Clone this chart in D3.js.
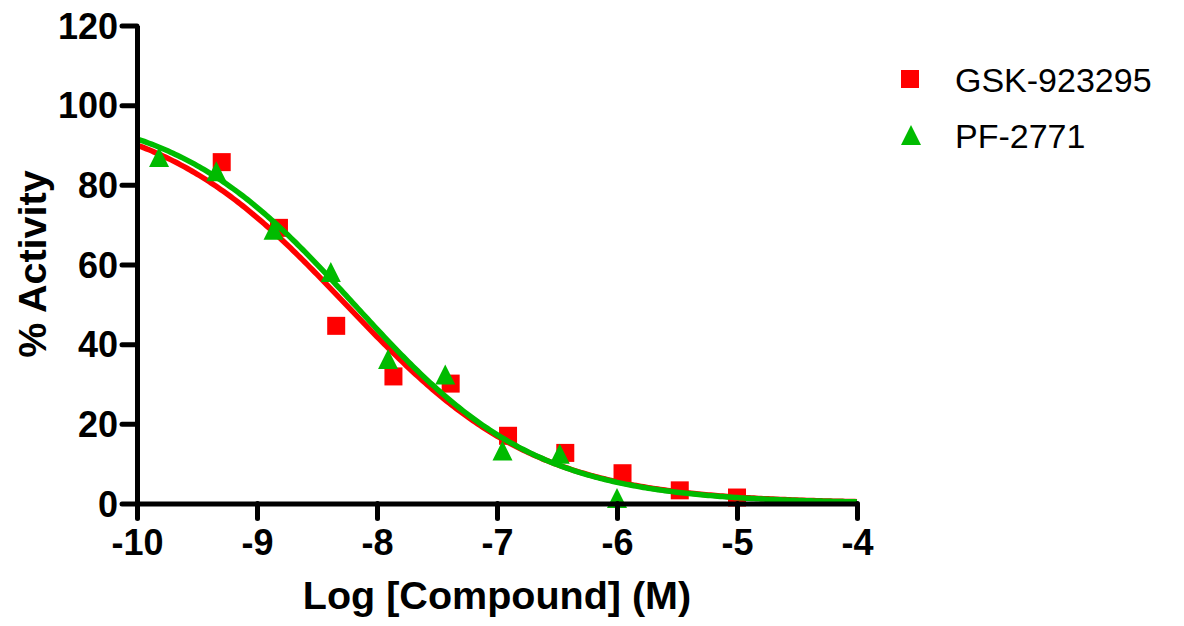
<!DOCTYPE html>
<html lang="en"><head>
<meta charset="utf-8">
<title>Dose response</title>
<script src="https://cdn.jsdelivr.net/npm/d3@7"></script>
<style>
  body { margin: 0; background: #fff; }
  text { font-family: "Liberation Sans", Arial, sans-serif; }
</style>
</head>
<body>
<script type="text/javascript">

// log concentrations (M)
var gskX = [-9.294, -8.817, -8.340, -7.863, -7.386, -6.908, -6.431, -5.954, -5.477, -5.0];
var gskY = [85.7, 69.2, 44.6, 31.9, 30.1, 17.0, 12.7, 7.6, 3.3, 1.5];
var pfX = [-9.816, -9.339, -8.862, -8.385, -7.908, -7.431, -6.954, -6.477, -6.0];
var pfY = [87.0, 83.4, 68.7, 58.1, 36.3, 32.4, 13.3, 12.5, 1.4];

// fitted 4PL parameters [bottom, top, logIC50, hill]
var gskFit = [0, 100, -8.26, 0.548];
var pfFit = [0, 100, -8.19, 0.571];

var names = ["GSK-923295", "PF-2771"];
var colors = ["#ff0000", "#00bb00"];
var xTicks = [-10, -9, -8, -7, -6, -5, -4];
var yTicks = [0, 20, 40, 60, 80, 100, 120];

var width = 1184, height = 626;
var svg = d3.select("body").append("svg")
    .attr("width", width)
    .attr("height", height);

var x = d3.scaleLinear().domain([-10, -4]).range([137, 857]);
var y = d3.scaleLinear().domain([0, 120]).range([503.5, 25.5]);

function fourPL(p, v) {
    return p[0] + (p[1] - p[0]) / (1 + Math.pow(10, (v - p[2]) * p[3]));
}

function tri(cx, cy) {
    return "M" + cx + "," + (cy - 10) + "L" + (cx + 10) + "," + (cy + 10) + "L" + (cx - 10) + "," + (cy + 10) + "Z";
}

var line = d3.line().x(function(d) { return x(d[0]); }).y(function(d) { return y(d[1]); });

function drawSeries(fit, xs, ys, i) {
    var pts = d3.range(0, 301).map(function(k) {
        var v = -10 + k * 6 / 300;
        return [v, fourPL(fit, v)];
    });
    svg.append("path")
        .attr("d", line(pts))
        .attr("fill", "none")
        .attr("stroke", colors[i])
        .attr("stroke-width", 5.5);
    var data = xs.map(function(v, k) { return [v, ys[k]]; });
    if (i == 0) {
        svg.selectAll(".sq").data(data).enter().append("rect")
            .attr("class", "sq")
            .attr("x", function(d) { return x(d[0]) - 9; })
            .attr("y", function(d) { return y(d[1]) - 9; })
            .attr("width", 18).attr("height", 18)
            .attr("fill", colors[0]);
    } else {
        svg.selectAll(".tri").data(data).enter().append("path")
            .attr("class", "tri")
            .attr("d", function(d) { return tri(x(d[0]), y(d[1])); })
            .attr("fill", colors[1]);
    }
}

drawSeries(gskFit, gskX, gskY, 0);
drawSeries(pfFit, pfX, pfY, 1);

// axes
var xAxis = svg.append("g")
    .attr("transform", "translate(0," + y(0) + ")")
    .call(d3.axisBottom(x).tickValues(xTicks).tickSize(15).tickPadding(11).tickSizeOuter(0));
var yAxis = svg.append("g")
    .attr("transform", "translate(" + x(-10) + ",0)")
    .call(d3.axisLeft(y).tickValues(yTicks).tickSize(15).tickPadding(4).tickSizeOuter(0));

[xAxis, yAxis].forEach(function(a) {
    a.select(".domain").attr("stroke", "#000").attr("stroke-width", 5);
    a.selectAll(".tick line").attr("stroke", "#000").attr("stroke-width", 5).attr("stroke-linecap", "round");
    a.selectAll(".tick text")
        .attr("fill", "#000")
        .style("font-size", "36px")
        .style("font-weight", "bold")
        .style("font-family", "Liberation Sans, Arial, sans-serif");
});
xAxis.selectAll(".tick text").text(function(d) { return d; });
yAxis.selectAll(".tick text").attr("dy", "0.35em");

// axis titles
svg.append("text")
    .attr("x", 497).attr("y", 609)
    .attr("text-anchor", "middle")
    .style("font-size", "39.5px").style("font-weight", "bold")
    .text("Log [Compound] (M)");

svg.append("text")
    .attr("transform", "translate(46,264) rotate(-90)")
    .attr("text-anchor", "middle")
    .style("font-size", "39.5px").style("font-weight", "bold")
    .text("% Activity");

// legend
var legY = [79, 135];
svg.append("rect").attr("x", 901).attr("y", legY[0] - 9).attr("width", 18).attr("height", 18).attr("fill", colors[0]);
svg.append("path").attr("d", tri(911, legY[1])).attr("fill", colors[1]);
names.forEach(function(n, i) {
    svg.append("text")
        .attr("x", 955).attr("y", legY[i] + 13)
        .style("font-size", "34px")
        .text(n);
});

</script>
</body></html>
